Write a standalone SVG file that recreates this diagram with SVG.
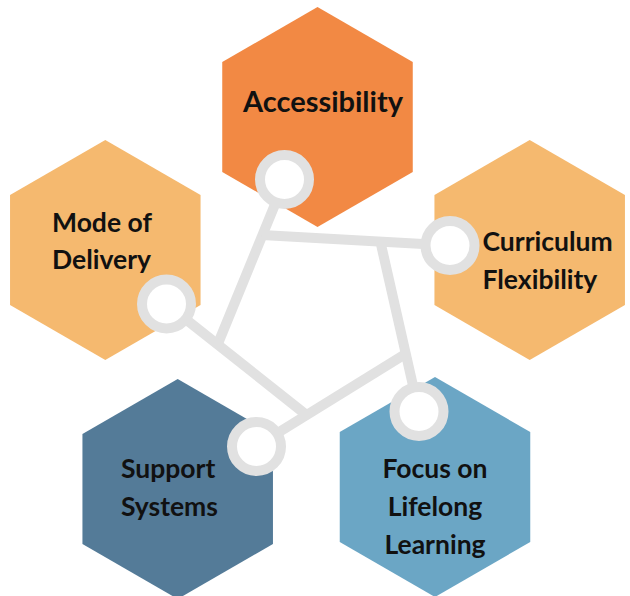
<svg xmlns="http://www.w3.org/2000/svg" width="630" height="596" viewBox="0 0 630 596">
<defs>
<style>
.lbl{font-family:Lato,"Open Sans","Liberation Sans",sans-serif;font-weight:700;font-size:26.5px;fill:#111}
.big{font-size:29px}
.link{stroke:#e1e1e1;stroke-width:10;fill:none;stroke-linecap:butt}
.ring{stroke:#e1e1e1;stroke-width:10;fill:#fff}
</style>
<polygon id="hex" points="0,-110 95.26,-55 95.26,55 0,110 -95.26,55 -95.26,-55"/>
</defs>
<rect width="630" height="596" fill="#fff"/>
<g id="node-accessibility">
<use href="#hex" x="317.5" y="117" fill="#f28944"/>
<text class="lbl big" x="243" y="112">Accessibility</text>
</g>
<g id="node-mode">
<use href="#hex" x="105.3" y="250" fill="#f5b96f"/>
<text class="lbl" x="52" y="232">Mode of</text>
<text class="lbl" x="52" y="269">Delivery</text>
</g>
<g id="node-curriculum">
<use href="#hex" x="529.7" y="250" fill="#f5b96f"/>
<text class="lbl" x="482.5" y="251">Curriculum</text>
<text class="lbl" x="482.5" y="289">Flexibility</text>
</g>
<g id="node-support">
<use href="#hex" x="177.7" y="489" fill="#547b98"/>
<text class="lbl" x="121" y="478">Support</text>
<text class="lbl" x="121" y="516">Systems</text>
</g>
<g id="node-focus">
<use href="#hex" x="435" y="487" fill="#6ba6c5"/>
<text class="lbl" x="435" y="478" text-anchor="middle">Focus on</text>
<text class="lbl" x="435" y="516" text-anchor="middle">Lifelong</text>
<text class="lbl" x="435" y="554" text-anchor="middle">Learning</text>
</g>
<g id="connectors">
<line class="link" x1="285" y1="180" x2="217" y2="346"/>
<line class="link" x1="166.5" y1="304" x2="309" y2="417"/>
<line class="link" x1="256.5" y1="446" x2="407" y2="353"/>
<line class="link" x1="419" y1="412" x2="380" y2="240"/>
<line class="link" x1="450" y1="245.5" x2="262" y2="235"/>
<circle class="ring" cx="284.5" cy="179.5" r="24.5"/>
<circle class="ring" cx="450" cy="245.5" r="24.5"/>
<circle class="ring" cx="166.5" cy="304" r="24.5"/>
<circle class="ring" cx="256.5" cy="446.5" r="24.5"/>
<circle class="ring" cx="419" cy="411.5" r="24.5"/>
</g>
</svg>
